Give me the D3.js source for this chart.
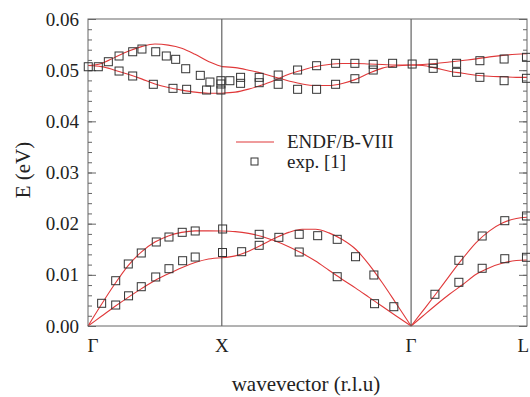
<!DOCTYPE html>
<html>
<head>
<meta charset="utf-8">
<script src="https://cdn.jsdelivr.net/npm/d3@7"></script>
<style>
  body { margin: 0; background: #fff; }
  svg { display: block; }
</style>
</head>
<body>
<svg id="chart" width="530" height="397"></svg>
<script>
// path coordinate (r.l.u along Γ-X-Γ-L)
const symPos = [0, 1, 2.414, 3.280];
const symLabels = ['Γ', 'X', 'Γ', 'L'];
const yTicks = [0, 0.01, 0.02, 0.03, 0.04, 0.05, 0.06];

// sampling positions of the calculated branches
const uGX = [0, 0.1, 0.2, 0.3, 0.4, 0.5, 0.6, 0.7, 0.8, 0.9, 1.0];
const uXG = [1.0, 1.1, 1.2, 1.3, 1.4, 1.5, 1.6, 1.7, 1.8, 1.9, 2.0, 2.1, 2.2, 2.3, 2.414];
const uGL = [2.414, 2.5, 2.6, 2.7, 2.8, 2.9, 3.0, 3.1, 3.2, 3.280];

// ENDF/B-VIII branches (eV)
const optGXup  = [0.0509, 0.0513, 0.0525, 0.0537, 0.0546, 0.0551, 0.0549, 0.0543, 0.0531, 0.0517, 0.0507];
const optGXlow = [0.0509, 0.0507, 0.0500, 0.0492, 0.0483, 0.0473, 0.0466, 0.0461, 0.0457, 0.0455, 0.0455];
const optXGa   = [0.0507, 0.0505, 0.0500, 0.0494, 0.0486, 0.0479, 0.0473, 0.0470, 0.0470, 0.0474, 0.0482, 0.0494, 0.0504, 0.0508, 0.0510];
const optXGb   = [0.0455, 0.0457, 0.0463, 0.0471, 0.0481, 0.0492, 0.0500, 0.0507, 0.0511, 0.0513, 0.0513, 0.0512, 0.0511, 0.0510, 0.0510];
const optGLup  = [0.0510, 0.0511, 0.0513, 0.0516, 0.0519, 0.0522, 0.0526, 0.0529, 0.0531, 0.0532];
const optGLlow = [0.0510, 0.0509, 0.0504, 0.0498, 0.0494, 0.0490, 0.0488, 0.0487, 0.0486, 0.0486];
const acGXta   = [0, 0.0019, 0.0038, 0.0056, 0.0073, 0.0089, 0.0102, 0.0114, 0.0124, 0.0131, 0.01335];
const acGXla   = [0, 0.0042, 0.0082, 0.0118, 0.0145, 0.0164, 0.0176, 0.0183, 0.0186, 0.0186, 0.01857];
const acXGa    = [0.01857, 0.01845, 0.0181, 0.0175, 0.0166, 0.0155, 0.0142, 0.0127, 0.0109, 0.0091, 0.0074, 0.0056, 0.0038, 0.0020, 0];
const acXGb    = [0.01335, 0.0137, 0.0146, 0.0159, 0.0172, 0.0183, 0.0189, 0.0189, 0.0182, 0.0169, 0.0150, 0.0120, 0.0084, 0.0045, 0];
const acGLta   = [0, 0.0019, 0.0041, 0.0062, 0.0081, 0.0101, 0.0114, 0.0123, 0.0128, 0.0129];
const acGLla   = [0, 0.0029, 0.0063, 0.0098, 0.0132, 0.0163, 0.0186, 0.0202, 0.0210, 0.02125];

// exp. [1]
const expU = [
  0.002, 0.077, 0.152, 0.232, 0.334, 0.403, 0.506, 0.585, 0.655, 0.730, 0.839, 0.911, 0.993,
  0.232, 0.334, 0.488, 0.635, 0.737, 0.886, 0.993, 0.993,
  1.060, 1.140, 1.140, 1.279, 1.279, 1.421, 1.421, 1.566, 1.566, 1.708, 1.708, 1.850, 1.850,
  1.994, 1.994, 2.131, 2.131, 2.276, 2.422,
  2.579, 2.579, 2.754, 2.754, 2.928, 2.928, 3.109, 3.109, 3.276, 3.276,
  0.102, 0.207, 0.301, 0.398, 0.510, 0.605, 0.704, 0.801, 1.006,
  0.207, 0.303, 0.398, 0.506, 0.605, 0.707, 0.801, 1.005,
  1.148, 1.279, 1.279, 1.426, 1.578, 1.578, 1.716, 1.862, 1.862, 1.999, 2.136, 2.141, 2.285,
  2.592, 2.771, 2.771, 2.945, 2.945, 3.114, 3.114, 3.276, 3.276
];
const expE = [
  0.05067, 0.05067, 0.05165, 0.05277, 0.0536, 0.05413, 0.0536, 0.05277, 0.05212, 0.05028, 0.04899, 0.04768, 0.04794,
  0.04983, 0.04886, 0.04724, 0.04645, 0.04626, 0.04612, 0.04612, 0.0473,
  0.04794, 0.0486, 0.04743, 0.0486, 0.04755, 0.04905, 0.04724, 0.05003, 0.04626, 0.05087, 0.04626, 0.05134, 0.04724,
  0.05134, 0.04833, 0.05114, 0.05003, 0.05134, 0.0512,
  0.05134, 0.05036, 0.05134, 0.04958, 0.05185, 0.0486, 0.05218, 0.04794, 0.05251, 0.04841,
  0.00444, 0.00885, 0.01212, 0.01427, 0.01642, 0.01739, 0.01831, 0.01857, 0.01896,
  0.0041, 0.0059, 0.00768, 0.00958, 0.0112, 0.01276, 0.01348, 0.01436,
  0.01452, 0.01792, 0.01577, 0.01733, 0.01792, 0.01446, 0.01765, 0.01694, 0.00963, 0.01354, 0.00997, 0.00436, 0.00377,
  0.0062, 0.00854, 0.01284, 0.01128, 0.01759, 0.01315, 0.02058, 0.0215, 0.01343
];

const svg = d3.select('#chart');
const mLeft = 88, mRight = 527, mTop = 19, mBottom = 326;
const serif = "'Liberation Serif', 'Times New Roman', Times, serif";

const x = d3.scaleLinear().domain([0, 3.280]).range([mLeft, mRight]);
const y = d3.scaleLinear().domain([0, 0.06]).range([mBottom, mTop]);

const red = '#e0393a';
const frame = '#666';

// branches
const branches = [
  [uGX, optGXup], [uGX, optGXlow], [uXG, optXGa], [uXG, optXGb], [uGL, optGLup], [uGL, optGLlow],
  [uGX, acGXta], [uGX, acGXla], [uXG, acXGa], [uXG, acXGb], [uGL, acGLta], [uGL, acGLla]
];
const line = d3.line()
  .x(d => x(d[0]))
  .y(d => y(d[1]))
  .curve(d3.curveMonotoneX);

svg.append('g').selectAll('path')
  .data(branches.map(b => b[0].map((u, i) => [u, b[1][i]])))
  .join('path')
  .attr('d', line)
  .attr('fill', 'none')
  .attr('stroke', red)
  .attr('stroke-width', 1.1);

// symmetry lines
svg.append('g').selectAll('line')
  .data(symPos.slice(1, 3))
  .join('line')
  .attr('x1', d => x(d)).attr('x2', d => x(d))
  .attr('y1', mTop).attr('y2', mBottom)
  .attr('stroke', '#444').attr('stroke-width', 1);

// frame
svg.append('rect')
  .attr('x', mLeft).attr('y', mTop)
  .attr('width', mRight - mLeft).attr('height', mBottom - mTop)
  .attr('fill', 'none').attr('stroke', frame).attr('stroke-width', 1);

// y axis, ticks inward
const yAxis = d3.axisRight(y).tickValues(yTicks).tickSize(8).tickFormat('');
const yMinor = d3.axisRight(y).ticks(30).tickSize(4).tickFormat('');
[yAxis, yMinor].forEach(ax => {
  svg.append('g').attr('transform', `translate(${mLeft},0)`).call(ax)
    .call(g => g.select('.domain').remove())
    .selectAll('line').attr('stroke', frame);
});
const yAxisR = d3.axisLeft(y).tickValues(yTicks).tickSize(8).tickFormat('');
const yMinorR = d3.axisLeft(y).ticks(30).tickSize(4).tickFormat('');
[yAxisR, yMinorR].forEach(ax => {
  svg.append('g').attr('transform', `translate(${mRight},0)`).call(ax)
    .call(g => g.select('.domain').remove())
    .selectAll('line').attr('stroke', frame);
});

// y labels
svg.append('g').selectAll('text')
  .data(yTicks)
  .join('text')
  .attr('x', mLeft - 9)
  .attr('y', d => y(d))
  .attr('dy', '0.35em')
  .attr('text-anchor', 'end')
  .attr('font-family', serif)
  .attr('font-size', 19)
  .attr('fill', '#222')
  .text(d3.format('.2f'));

// x labels
svg.append('g').selectAll('text')
  .data(symPos)
  .join('text')
  .attr('x', d => x(d))
  .attr('y', 352)
  .attr('text-anchor', (d, i) => i === symPos.length - 1 ? 'end' : 'middle')
  .attr('dx', (d, i) => i === 0 ? 5 : (i === symPos.length - 1 ? 2 : 0))
  .attr('font-family', serif)
  .attr('font-size', 19)
  .attr('fill', '#222')
  .text((d, i) => symLabels[i]);

// axis titles
svg.append('text')
  .attr('transform', 'translate(30,170) rotate(-90)')
  .attr('text-anchor', 'middle')
  .attr('font-family', serif)
  .attr('font-size', 21)
  .attr('fill', '#222')
  .text('E (eV)');
svg.append('text')
  .attr('x', 306).attr('y', 391)
  .attr('text-anchor', 'middle')
  .attr('font-family', serif)
  .attr('font-size', 21)
  .attr('fill', '#222')
  .text('wavevector (r.l.u)');

// experimental points
svg.append('g').selectAll('rect')
  .data(expU.map((u, i) => [u, expE[i]]))
  .join('rect')
  .attr('x', d => x(d[0]) - 4)
  .attr('y', d => y(d[1]) - 4)
  .attr('width', 8).attr('height', 8)
  .attr('fill', 'none')
  .attr('stroke', '#333').attr('stroke-width', 1);

// legend
const lg = svg.append('g').attr('font-family', serif).attr('font-size', 19).attr('fill', '#222');
lg.append('line')
  .attr('x1', 236).attr('x2', 274).attr('y1', 142).attr('y2', 142)
  .attr('stroke', red).attr('stroke-width', 1.1);
lg.append('text').attr('x', 287).attr('y', 148).text('ENDF/B-VIII');
lg.append('rect')
  .attr('x', 251).attr('y', 158).attr('width', 7).attr('height', 7)
  .attr('fill', 'none').attr('stroke', '#333').attr('stroke-width', 1);
lg.append('text').attr('x', 287).attr('y', 168).text('exp. [1]');
</script>
</body>
</html>
